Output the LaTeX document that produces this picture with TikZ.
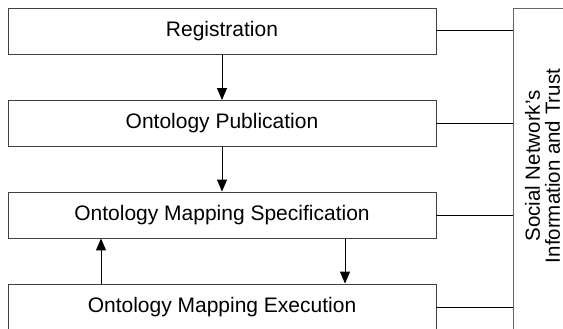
\documentclass[tikz,border=0pt]{standalone}
\usepackage{fontspec}
\setmainfont{Liberation Sans}
\usetikzlibrary{arrows.meta}

\begin{document}
\begin{tikzpicture}[x=1pt,y=-1pt]
        \tikzstyle{stage}=[draw=black!75, line width=0.9pt, minimum width=428pt, minimum height=46pt, inner sep=0pt, font=\fontsize{21}{24}\selectfont]
        \tikzstyle{flow}=[black, line width=1pt, -{Triangle[length=12pt,width=10pt]}]
        \tikzstyle{link}=[black, line width=1pt]
        \useasboundingbox (0,0) rectangle (563,329);
        \clip (0,0) rectangle (563,329);
        \node [stage] (reg) at (222,31) {Registration};
        \node [stage] (pub) at (222,123.5) {Ontology Publication};
        \node [stage] (spec) at (222,215) {Ontology Mapping Specification};
        \node [stage] (exec) at (222,307) {Ontology Mapping Execution};
        \node [draw=black!60, line width=0.9pt, minimum width=90pt, minimum height=345pt, inner sep=0pt] (side) at (558,180.5) {};
        \node [rotate=90, align=center, inner sep=0pt, font=\fontsize{20.5}{20}\selectfont] (sidetext) at (542.5,166) {Social Network's\\Information and Trust};
        \draw [flow] (reg) -- (pub);
        \draw [flow] (pub) -- (spec);
        \draw [flow] (spec.south -| 345,0) -- (exec.north -| 345,0);
        \draw [flow] (exec.north -| 101,0) -- (spec.south -| 101,0);
        \draw [link] (reg.east) -- (reg.east -| side.west);
        \draw [link] (pub.east) -- (pub.east -| side.west);
        \draw [link] (spec.east) -- (spec.east -| side.west);
        \draw [link] (exec.east) -- (exec.east -| side.west);
\end{tikzpicture}
\end{document}
